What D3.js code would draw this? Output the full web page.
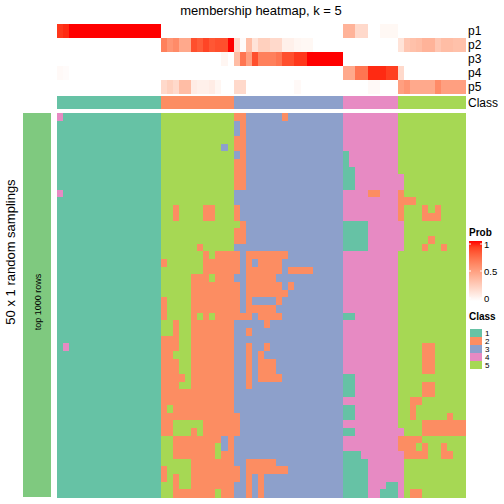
<!DOCTYPE html>
<html><head><meta charset="utf-8">
<script src="https://cdn.jsdelivr.net/npm/d3@7"></script>
<style>body{margin:0;background:#fff}svg{display:block;font-family:"Liberation Sans",Arial,sans-serif}</style>
</head><body><svg id="c" width="504" height="504"></svg>
<script>
const title = "membership heatmap, k = 5";
const classes = ["1","2","3","4","5"];
const classColors = ["#66C2A5","#FC8D62","#8DA0CB","#E78AC3","#A6D854"];
const probNames = ["p1","p2","p3","p4","p5"];
const colClass = [1,1,1,1,1,1,1,1,1,1,1,1,1,1,1,1,1, 2,2,2,2,2,2,2,2,2,2,2,2, 3,3,3,3,3,3,3,3,3,3,3,3,3,3,3,3,3,3, 4,4,4,4,4,4,4,4,4, 5,5,5,5,5,5,5,5,5,5,5];
const p1 = [0.92,0.95,1,1,1,1,1,1,1,1,1,1,1,1,1,1,1, 0,0,0,0,0,0,0,0,0,0,0,0, 0,0,0,0,0,0,0,0,0,0,0,0,0,0,0,0,0,0, 0.4,0.4,0.2,0.2,0,0,0.04,0.04,0.04, 0,0,0,0,0,0,0,0,0,0,0];
const p2 = [0,0,0,0,0,0,0,0,0,0,0,0,0,0,0,0,0, 0.65,0.55,0.6,0.45,0.45,0.85,0.8,0.88,0.82,0.85,0.85,1, 0.2,0.02,0.35,0.15,0.25,0.25,0.2,0.2,0.08,0.08,0.05,0.04,0.04,0,0,0,0,0, 0,0,0,0,0,0,0,0,0, 0.15,0.3,0.33,0.35,0.4,0.4,0.3,0.35,0.35,0.33,0.33];
const p3 = [0,0,0,0,0,0,0,0,0,0,0,0,0,0,0,0,0, 0,0,0,0,0,0,0,0,0,0,0.05,0, 0.35,0.7,0.5,0.85,0.65,0.65,0.65,0.7,0.85,0.85,0.92,0.92,1,1,1,1,1,1, 0,0,0,0,0,0,0,0,0, 0,0,0,0,0,0,0,0,0,0,0];
const p4 = [0.03,0.02,0,0,0,0,0,0,0,0,0,0,0,0,0,0,0, 0,0,0,0,0,0,0,0,0,0,0,0, 0,0,0,0,0,0,0,0,0,0,0,0,0,0,0,0,0,0, 0.45,0.45,0.7,0.7,0.95,0.95,0.95,0.9,0.9, 0.2,0,0,0,0,0,0,0,0,0,0];
const p5 = [0,0,0,0,0,0,0,0,0,0,0,0,0,0,0,0,0, 0.2,0.25,0.2,0.35,0.35,0.1,0.08,0.08,0.1,0.05,0,0, 0.2,0.2,0,0,0,0,0,0,0,0,0.03,0,0,0,0,0,0,0, 0,0,0,0,0.03,0.03,0,0,0, 0.5,0.55,0.45,0.45,0.45,0.45,0.6,0.5,0.5,0.5,0.5];
// 50 samplings x 67 columns, class per cell
const samplings = [
"41111111111111111"+"555555555555"+"223333332333333333"+"444444444"+"55555555555",
"11111111111111111"+"555555555555"+"323333333333333333"+"444444444"+"55555555555",
"11111111111111111"+"555555555555"+"323333333333333333"+"444444444"+"55555555555",
"11111111111111111"+"555555555555"+"223333333333333333"+"444444444"+"55555555555",
"11111111111111111"+"555555555535"+"223333333333333333"+"444444444"+"55555555555",
"11111111111111111"+"555555555555"+"323333333333333333"+"144444444"+"55555555555",
"11111111111111111"+"555555555555"+"223333333333333333"+"144444444"+"55555555555",
"11111111111111111"+"555555555555"+"223333333333333333"+"114444444"+"55555555555",
"11111111111111111"+"555555555555"+"223333333333333333"+"114444444"+"45555555555",
"11111111111111111"+"555555555555"+"223333333333333333"+"114444444"+"45555555555",
"41111111111111111"+"555555555555"+"333333333333333333"+"444422444"+"25555555555",
"11111111111111111"+"555555555555"+"333333333333333333"+"444444444"+"22255555555",
"11111111111111111"+"552555522555"+"233333333333333333"+"444444444"+"25552525555",
"11111111111111111"+"552555522555"+"233333333333333333"+"444444444"+"25552225555",
"11111111111111111"+"555555555555"+"523333333333333333"+"111144444"+"45555555555",
"11111111111111111"+"555555555555"+"223333333333333333"+"111144444"+"45555555555",
"11111111111111111"+"555555555555"+"223333333333333333"+"111144444"+"45555255555",
"11111111111111111"+"555555255555"+"333333333333333333"+"111144444"+"45552552555",
"11111111111111111"+"555555525222"+"232222222333333333"+"444444444"+"55555555555",
"11111111111111111"+"255555522222"+"232322223333333333"+"444444444"+"55555555555",
"11111111111111111"+"555555522222"+"232222223222233333"+"444444444"+"55555555555",
"11111111111111111"+"555552225222"+"332222233333333333"+"444444444"+"55555555555",
"11111111111111111"+"555552222222"+"232222223233333333"+"444444444"+"55555555555",
"11111111111111111"+"555552222222"+"232222222333333333"+"444444444"+"55555555555",
"11111111111111111"+"255552222222"+"232333323333333333"+"444444444"+"55555555555",
"11111111111111111"+"255552222222"+"232222233333333333"+"444444444"+"55555555555",
"11111111111111111"+"255552525222"+"222322223333333333"+"114444444"+"55555555555",
"11111111111111111"+"552552222222"+"333332333333333333"+"444444444"+"55555555555",
"11111111111111111"+"552552222222"+"332333333333333333"+"444444444"+"55555555555",
"11111111111111111"+"222552222222"+"333333333333333333"+"444444444"+"55555555555",
"14111111111111111"+"222552222222"+"332332333333333333"+"444444444"+"55552255555",
"11111111111111111"+"225552222222"+"332323333333333333"+"444444444"+"55552255555",
"11111111111111111"+"222552222222"+"332322233333333333"+"444444444"+"55552255555",
"11111111111111111"+"222552222222"+"332322233333333333"+"444444444"+"55552255555",
"11111111111111111"+"222252222222"+"332322223333333333"+"114444444"+"55555555555",
"11111111111111111"+"222552222222"+"332333333333333333"+"114444444"+"55552255555",
"11111111111111111"+"222222222222"+"333333333333333333"+"114444444"+"55552255555",
"11111111111111111"+"222222222222"+"333333333333333333"+"444444444"+"55225555555",
"11111111111111111"+"252222222222"+"333333333333333333"+"114444444"+"55255555555",
"11111111111111111"+"222222222222"+"233333333333333333"+"114444444"+"55255555255",
"11111111111111111"+"225555522222"+"233333333333333333"+"444444444"+"55552222222",
"11111111111111111"+"225552522222"+"233333333333333333"+"114444444"+"45552222222",
"11111111111111111"+"552222222232"+"333333333333333333"+"444444444"+"22225555555",
"11111111111111111"+"552222222532"+"333333333333333333"+"444444444"+"22252552555",
"11111111111111111"+"552222222522"+"333333333333333333"+"111444444"+"42222552255",
"11111111111111111"+"555552222222"+"332222233333333333"+"111144444"+"45555555555",
"11111111111111111"+"255552222222"+"232222222333333333"+"111144444"+"45555555555",
"11111111111111111"+"252552222222"+"232323333333333333"+"111144444"+"45555555555",
"11111111111111111"+"552552222222"+"332323333333333333"+"111144411"+"45555555555",
"11111111111111111"+"552222222522"+"332323333333333333"+"111144111"+"45225555555"
];
const rowLabel = "top 1000 rows";
const yTitle = "50 x 1 random samplings";
const probTicks = [0, 0.5, 1];

const svg = d3.select("#c");
const nCol = colClass.length;
const x = d3.scaleBand().domain(d3.range(nCol)).range([57,465]);
const y = d3.scaleBand().domain(d3.range(samplings.length)).range([113,497]);
const ya = d3.scaleBand().domain(probNames).range([24,94]);
const clsColor = d3.scaleOrdinal().domain(classes).range(classColors);
const probColor = d3.scaleLinear().domain([0,1]).range(["#ffffff","#ff0000"]).interpolate(d3.interpolateLab);

svg.append("text").attr("x",261).attr("y",15).attr("text-anchor","middle")
  .attr("font-size",13).text(title);

const probs = [p1,p2,p3,p4,p5];
const ann = svg.append("g").attr("shape-rendering","crispEdges");
probNames.forEach((nm,k)=>{
  ann.selectAll(null).data(probs[k]).join("rect")
    .attr("x",(d,i)=>x(i)).attr("width",x.bandwidth()+0.5)
    .attr("y",ya(nm)).attr("height",ya.bandwidth())
    .attr("fill",d=>probColor(d));
  svg.append("text").attr("x",468).attr("y",ya(nm)+ya.bandwidth()/2+4)
    .attr("font-size",12).text(nm);
});
ann.selectAll(null).data(colClass).join("rect")
  .attr("x",(d,i)=>x(i)).attr("width",x.bandwidth()+0.5)
  .attr("y",96).attr("height",13)
  .attr("fill",d=>clsColor(String(d)));
svg.append("text").attr("x",468).attr("y",107).attr("font-size",12).text("Class");

// main heatmap
const cells = [];
samplings.forEach((s,r)=>{ for(let i=0;i<s.length;i++) cells.push({r, c:i, v:s[i]}); });
svg.append("g").attr("shape-rendering","crispEdges").selectAll("rect").data(cells).join("rect")
  .attr("x",d=>x(d.c)).attr("width",x.bandwidth()+0.5)
  .attr("y",d=>y(d.r)).attr("height",y.bandwidth()+0.5)
  .attr("fill",d=>clsColor(d.v));

// left row annotation
svg.append("rect").attr("x",23).attr("y",113).attr("width",28).attr("height",384).attr("fill","#7FC97F");
svg.append("text").attr("transform","translate(41,302) rotate(-90)").attr("text-anchor","middle")
  .attr("font-size",9).text(rowLabel);
svg.append("text").attr("transform","translate(15,252) rotate(-90)").attr("text-anchor","middle")
  .attr("font-size",13).text(yTitle);

// Prob legend
const defs = svg.append("defs");
const grad = defs.append("linearGradient").attr("id","pg").attr("x1",0).attr("x2",0).attr("y1",1).attr("y2",0);
d3.range(0,1.01,0.1).forEach(t=>grad.append("stop").attr("offset",t).attr("stop-color",probColor(t)));
svg.append("text").attr("x",469).attr("y",236).attr("font-size",10).attr("font-weight","bold").text("Prob");
const ly = d3.scaleLinear().domain([0,1]).range([298,244]);
svg.append("rect").attr("x",469).attr("y",241).attr("width",13).attr("height",60).attr("fill","url(#pg)");
probTicks.forEach(t=>{
  svg.append("line").attr("x1",469).attr("x2",471).attr("y1",ly(t)).attr("y2",ly(t)).attr("stroke","#fff");
  svg.append("line").attr("x1",480).attr("x2",482).attr("y1",ly(t)).attr("y2",ly(t)).attr("stroke","#fff");
  svg.append("text").attr("x",484).attr("y",ly(t)+3.5).attr("font-size",9.5).text(t);
});
svg.append("text").attr("x",469).attr("y",320).attr("font-size",10).attr("font-weight","bold").text("Class");
classes.forEach((c,i)=>{
  svg.append("rect").attr("x",470).attr("y",329+i*8).attr("width",12).attr("height",8).attr("fill",clsColor(c));
  svg.append("text").attr("x",485).attr("y",336+i*8).attr("font-size",8).text(c);
});
</script></body></html>
